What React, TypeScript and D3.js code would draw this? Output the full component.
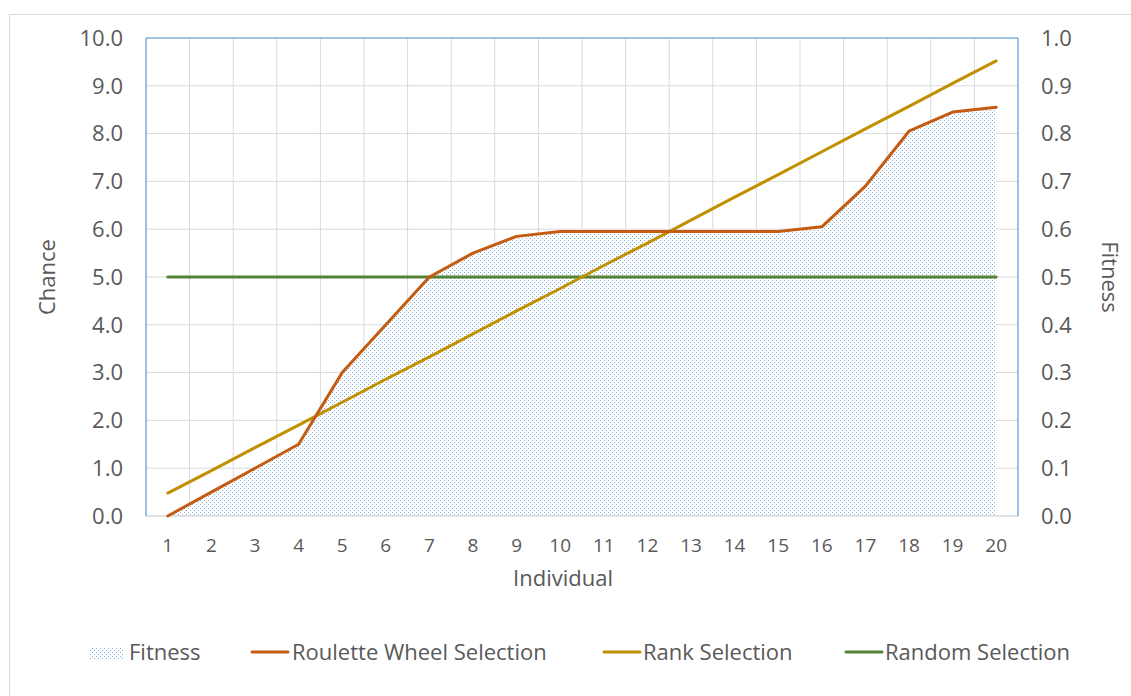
import React from "react";
import * as d3 from "d3";

const individuals = [1, 2, 3, 4, 5, 6, 7, 8, 9, 10, 11, 12, 13, 14, 15, 16, 17, 18, 19, 20];
const fitness = [0, 0.05, 0.1, 0.15, 0.3, 0.4, 0.5, 0.55, 0.585, 0.595, 0.595, 0.595, 0.595, 0.595, 0.595, 0.605, 0.69, 0.805, 0.845, 0.855];
const roulette = [0, 0.5, 1.0, 1.5, 3.0, 4.0, 5.0, 5.5, 5.85, 5.95, 5.95, 5.95, 5.95, 5.95, 5.95, 6.05, 6.9, 8.05, 8.45, 8.55];
const rank = [0.48, 0.95, 1.43, 1.9, 2.38, 2.86, 3.33, 3.81, 4.29, 4.76, 5.24, 5.71, 6.19, 6.67, 7.14, 7.62, 8.1, 8.57, 9.05, 9.52];
const random = [5, 5, 5, 5, 5, 5, 5, 5, 5, 5, 5, 5, 5, 5, 5, 5, 5, 5, 5, 5];
const leftTicks = [0, 1, 2, 3, 4, 5, 6, 7, 8, 9, 10];
const rightTicks = [0, 0.1, 0.2, 0.3, 0.4, 0.5, 0.6, 0.7, 0.8, 0.9, 1.0];

const W = 1131, H = 696;
const L = 146, R = 1018, T = 38, B = 516;
const FONT = "'Open Sans', sans-serif";
const TXT = "#595959";
const GRID = "#d9d9d9";
const BLUE = "#5b9bd5";
const C_ROUL = "#c55a11";
const C_RANK = "#bf9000";
const C_RAND = "#548235";

export default function App() {
  const x = d3.scaleBand<number>().domain(individuals).range([L, R]);
  const cx = (d: number) => (x(d) as number) + x.bandwidth() / 2;
  const yL = d3.scaleLinear().domain([0, 10]).range([B, T]);
  const yR = d3.scaleLinear().domain([0, 1]).range([B, T]);
  const fmt = d3.format(".1f");

  const area = d3.area<number>().x((_, i) => cx(individuals[i])).y0(yR(0)).y1((d) => yR(d));
  const line = d3.line<number>().x((_, i) => cx(individuals[i])).y((d) => yL(d));

  const legendY = 652;
  const fs = 22;

  return (
    <svg width={W} height={H} style={{ position: "absolute", left: 0, top: 0, background: "#fff" }}>
      <defs>
        <pattern id="dots" width={4} height={4} patternUnits="userSpaceOnUse">
          <rect width={4} height={4} fill="#fff" />
          <rect x={0} y={0} width={1} height={1} fill={BLUE} fillOpacity={0.8} />
          <rect x={2} y={2} width={1} height={1} fill={BLUE} fillOpacity={0.8} />
        </pattern>
      </defs>
      <rect x={9.5} y={14.5} width={1200} height={800} fill="#fff" stroke={GRID} />
      {leftTicks.filter((t) => t > 0).map((t) => (
        <line key={"h" + t} x1={L} x2={R} y1={yL(t)} y2={yL(t)} stroke={GRID} strokeWidth={1} />
      ))}
      {individuals.slice(1).map((d) => (
        <line key={"v" + d} x1={x(d)} x2={x(d)} y1={T} y2={B} stroke={GRID} strokeWidth={1} />
      ))}
      <path d={area(fitness) as string} fill="url(#dots)" />
      <line x1={L} x2={R} y1={B} y2={B} stroke={GRID} strokeWidth={1.5} />
      <line x1={L} x2={L} y1={T} y2={B} stroke={BLUE} strokeWidth={1.2} />
      <line x1={R} x2={R} y1={T} y2={B} stroke={BLUE} strokeWidth={1.2} />
      <line x1={L} x2={R} y1={T} y2={T} stroke={BLUE} strokeWidth={1.2} />
      <path d={line(random) as string} fill="none" stroke={C_RAND} strokeWidth={3} strokeLinecap="round" strokeLinejoin="round" />
      <path d={line(rank) as string} fill="none" stroke={C_RANK} strokeWidth={3} strokeLinecap="round" strokeLinejoin="round" />
      <path d={line(roulette) as string} fill="none" stroke={C_ROUL} strokeWidth={3} strokeLinecap="round" strokeLinejoin="round" />
      {leftTicks.map((t) => (
        <text key={"l" + t} x={123} y={yL(t)} dy="0.35em" textAnchor="end" fontFamily={FONT} fontSize={fs} fill={TXT}>
          {fmt(t)}
        </text>
      ))}
      {rightTicks.map((t) => (
        <text key={"r" + t} x={1041} y={yR(t)} dy="0.35em" textAnchor="start" fontFamily={FONT} fontSize={fs} fill={TXT}>
          {fmt(t)}
        </text>
      ))}
      {individuals.map((d) => (
        <text key={"x" + d} x={cx(d)} y={545} dy="0.35em" textAnchor="middle" fontFamily={FONT} fontSize={19} fill={TXT}>
          {d}
        </text>
      ))}
      <text x={563} y={578} dy="0.35em" textAnchor="middle" fontFamily={FONT} fontSize={fs} fill={TXT}>Individual</text>
      <text transform={`translate(47,277) rotate(-90)`} dy="0.35em" textAnchor="middle" fontFamily={FONT} fontSize={fs} fill={TXT}>Chance</text>
      <text transform={`translate(1110,277) rotate(90)`} dy="0.35em" textAnchor="middle" fontFamily={FONT} fontSize={fs} fill={TXT}>Fitness</text>
      <rect x={90} y={647} width={33} height={12} fill="url(#dots)" />
      <text x={129} y={legendY} dy="0.35em" fontFamily={FONT} fontSize={fs} fill={TXT}>Fitness</text>
      <line x1={252} x2={288} y1={legendY} y2={legendY} stroke={C_ROUL} strokeWidth={3} strokeLinecap="round" />
      <text x={292} y={legendY} dy="0.35em" fontFamily={FONT} fontSize={fs} fill={TXT}>Roulette Wheel Selection</text>
      <line x1={604} x2={640} y1={legendY} y2={legendY} stroke={C_RANK} strokeWidth={3} strokeLinecap="round" />
      <text x={643} y={legendY} dy="0.35em" fontFamily={FONT} fontSize={fs} fill={TXT}>Rank Selection</text>
      <line x1={846} x2={882} y1={legendY} y2={legendY} stroke={C_RAND} strokeWidth={3} strokeLinecap="round" />
      <text x={885} y={legendY} dy="0.35em" fontFamily={FONT} fontSize={fs} fill={TXT}>Random Selection</text>
    </svg>
  );
}
